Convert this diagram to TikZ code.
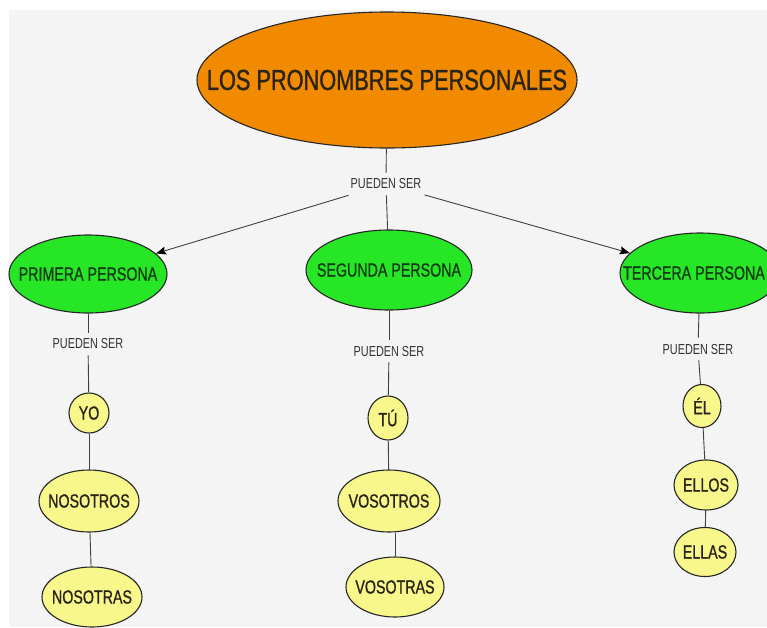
\documentclass[tikz,border=0pt]{standalone}
\usepackage{fontspec}
\newfontfamily\cond{Liberation Sans}[FakeStretch=0.75,FakeBold=1]
\newfontfamily\condlab{Liberation Sans}[FakeStretch=0.75]
\usetikzlibrary{shapes.geometric,arrows.meta}
\definecolor{bg}{HTML}{F4F4F4}
\definecolor{orangeN}{HTML}{F28A00}
\definecolor{greenN}{HTML}{26E626}
\definecolor{yellowN}{HTML}{F7F78C}
\definecolor{greenT}{HTML}{143C14}
\definecolor{darkT}{HTML}{2A2418}
\newcommand\zw[1]{\makebox[0pt]{#1}}
\begin{document}
\begin{tikzpicture}[x=1pt,y=-1pt,
  oval/.style={ellipse,draw=black!85,line width=1.1pt,inner sep=0pt,text=darkT},
  titlebox/.style={oval,fill=orangeN,font=\cond\fontsize{29}{30}\selectfont},
  person/.style={oval,fill=greenN,text=greenT,font=\cond\fontsize{19}{20}\selectfont},
  pron/.style={oval,fill=yellowN,font=\cond\fontsize{19}{20}\selectfont},
  lab/.style={font=\condlab\fontsize{14.5}{15}\selectfont,text=black!80,inner xsep=3pt,inner ysep=6pt},
  conn/.style={draw=black!75,line width=0.9pt},
  arr/.style={conn,-{Stealth[length=10pt,width=8pt,inset=1.5pt,black]}}]
\clip (0,0) rectangle (767,627);
\fill[white] (0,0) rectangle (767,627);
\fill[bg] (9,10) rectangle (767,627);

\node[titlebox,minimum width=380pt,minimum height=136pt] (title) at (387,80) {\zw{LOS PRONOMBRES PERSONALES}};
\node[lab] (lab0) at (386,184) {PUEDEN SER};

\node[person,minimum width=158pt,minimum height=78pt] (prim) at (88,274) {\zw{PRIMERA PERSONA}};
\node[person,minimum width=166pt,minimum height=80pt] (seg) at (389,270) {\zw{SEGUNDA PERSONA}};
\node[person,minimum width=160pt,minimum height=80pt] (ter) at (700,273) {\zw{\kern-12pt TERCERA PERSONA}};

\node[lab] (lab1) at (88,344) {PUEDEN SER};
\node[lab] (lab2) at (389,351) {PUEDEN SER};
\node[lab] (lab3) at (698,349) {PUEDEN SER};

\node[pron,minimum width=40pt,minimum height=40pt] (yo) at (89,413) {\zw{YO}};
\node[pron,minimum width=100pt,minimum height=62pt] (nosotros) at (89,501) {\zw{NOSOTROS}};
\node[pron,minimum width=100pt,minimum height=60pt] (nosotras) at (92,597) {\zw{NOSOTRAS}};

\node[pron,minimum width=40pt,minimum height=44pt] (tu) at (388,418) {\zw{TÚ}};
\node[pron,minimum width=102pt,minimum height=62pt] (vosotros) at (389,501) {\zw{VOSOTROS}};
\node[pron,minimum width=98pt,minimum height=60pt] (vosotras) at (395,587) {\zw{VOSOTRAS}};

\node[pron,minimum width=38pt,minimum height=43pt] (el) at (702,406) {\zw{ÉL}};
\node[pron,minimum width=64pt,minimum height=50pt] (ellos) at (706,485) {\zw{ELLOS}};
\node[pron,minimum width=62pt,minimum height=49pt] (ellas) at (705,552) {\zw{ELLAS}};

\draw[conn] (title) -- (lab0);
\draw[conn] (lab0) -- (seg);
\draw[arr] (lab0) -- (prim);
\draw[arr] (lab0) -- (ter);

\draw[conn] (prim) -- (lab1);
\draw[conn] (lab1) -- (yo);
\draw[conn] (yo) -- (nosotros);
\draw[conn] (nosotros) -- (nosotras);

\draw[conn] (seg) -- (lab2);
\draw[conn] (lab2) -- (tu);
\draw[conn] (tu) -- (vosotros);
\draw[conn] (vosotras.north) -- (vosotras.north |- vosotros.south);

\draw[conn] (ter) -- (lab3);
\draw[conn] (lab3) -- (el);
\draw[conn] (el) -- (ellos);
\draw[conn] (ellos) -- (ellas);
\end{tikzpicture}
\end{document}
